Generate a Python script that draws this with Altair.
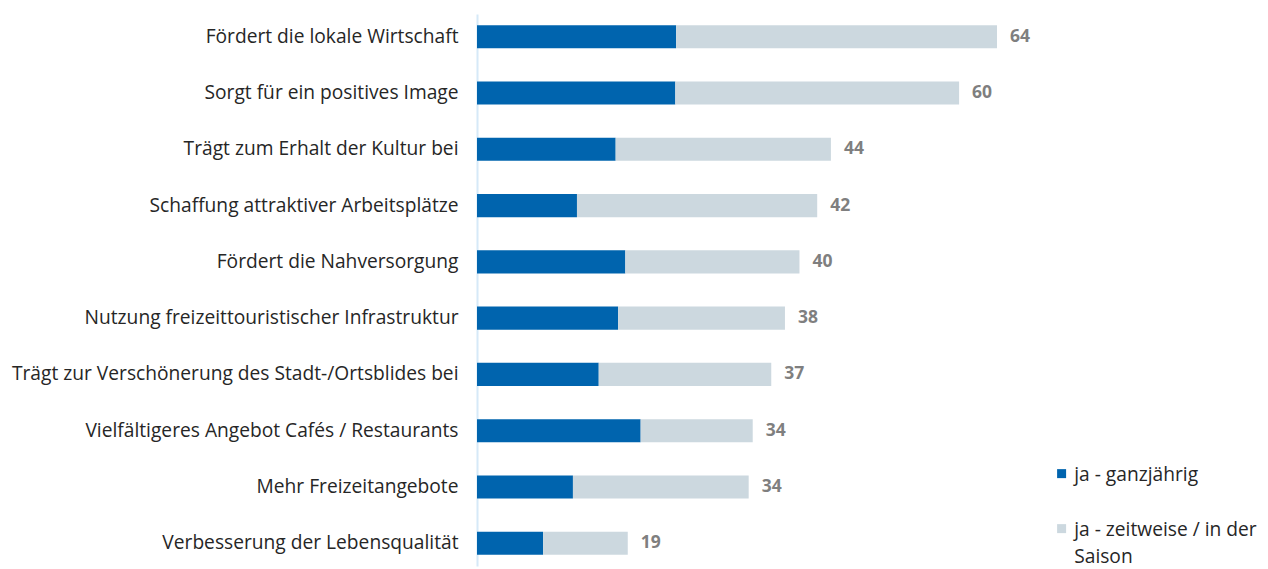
import altair as alt
import pandas as pd

categories = [
    "Fördert die lokale Wirtschaft",
    "Sorgt für ein positives Image",
    "Trägt zum Erhalt der Kultur bei",
    "Schaffung attraktiver Arbeitsplätze ",
    "Fördert die Nahversorgung",
    "Nutzung freizeittouristischer Infrastruktur",
    "Trägt zur Verschönerung des Stadt-/Ortsblides bei",
    "Vielfältigeres Angebot Cafés / Restaurants",
    "Mehr Freizeitangebote",
    "Verbesserung der Lebensqualität",
]
ganzjaehrig = [24.7, 24.6, 17.2, 12.4, 18.4, 17.5, 15.1, 20.3, 11.9, 8.2]
zeitweise = [39.8, 35.2, 26.7, 29.8, 21.6, 20.7, 21.4, 13.9, 21.8, 10.5]
total_labels = [64, 60, 44, 42, 40, 38, 37, 34, 34, 19]
series = ["ja - ganzjährig", "ja - zeitweise / in der Saison"]
colors = ["#0064AE", "#CCD8DF"]

rows = []
for c, a, b, t in zip(categories, ganzjaehrig, zeitweise, total_labels):
    rows.append({"cat": c, "series": series[0], "value": a, "order": 0, "label": t})
    rows.append({"cat": c, "series": series[1], "value": b, "order": 1, "label": t})
df = pd.DataFrame(rows)

FONT = "Open Sans"
FS = 19.2

y_enc = alt.Y(
    "cat:N",
    sort=categories,
    title=None,
    scale=alt.Scale(paddingInner=0.59, paddingOuter=0.2),
    axis=alt.Axis(
        ticks=False,
        labelPadding=19,
        labelFontSize=FS,
        labelFont=FONT,
        labelColor="#262626",
        labelLimit=600,
        domainColor="#D6E9F8",
        domainWidth=2,
        grid=False,
    ),
)

bars = alt.Chart(df).mark_bar().encode(
    x=alt.X(
        "value:Q",
        stack="zero",
        scale=alt.Scale(domain=[0, 97], nice=False),
        axis=None,
    ),
    y=y_enc,
    color=alt.Color(
        "series:N",
        scale=alt.Scale(domain=series, range=colors),
        title=None,
        legend=alt.Legend(
            orient="none",
            legendX=575,
            legendY=457,
            direction="vertical",
            symbolType="M-1,-2.55H1V-0.55H-1Z",
            symbolSize=81,
            symbolStrokeWidth=0,
            labelFontSize=FS,
            labelFont=FONT,
            labelColor="#262626",
            labelOffset=3,
            labelLimit=300,
            labelBaseline="alphabetic",
            rowPadding=35,
            padding=0,
            labelExpr="datum.label == 'ja - zeitweise / in der Saison' ? ['ja - zeitweise / in der', 'Saison'] : datum.label",
        ),
    ),
    order=alt.Order("order:Q"),
)

texts = alt.Chart(df).transform_aggregate(
    total="sum(value)", label="max(label)", groupby=["cat"]
).mark_text(
    align="left", baseline="middle", dx=13, fontSize=17.5, fontWeight="bold",
    font=FONT, color="#7F7F7F",
).encode(
    x=alt.X("total:Q", scale=alt.Scale(domain=[0, 97], nice=False), axis=None),
    y=alt.Y("cat:N", sort=categories, title=None),
    text=alt.Text("label:Q"),
)

chart = alt.layer(bars, texts).properties(
    width=782,
    height=552,
    padding={"left": 469, "top": 6, "right": 0, "bottom": 2},
    autosize=alt.AutoSizeParams(type="none"),
).configure(
    style={"guide-label": {"lineHeight": 27}}
).configure_view(stroke=None)

chart.save("out.html", embed_options={"renderer": "svg", "actions": False})
